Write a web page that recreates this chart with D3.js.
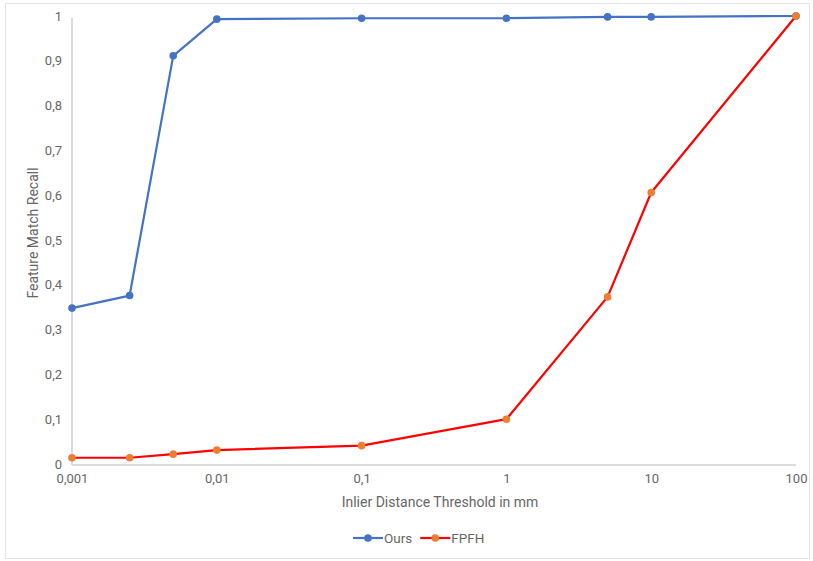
<!DOCTYPE html>
<html>
<head>
<meta charset="utf-8">
<script src="https://cdn.jsdelivr.net/npm/d3@7"></script>
<style>
  html, body { margin: 0; padding: 0; background: #fff; }
  svg { display: block; }
  text { font-family: Roboto, "Liberation Sans", Arial, sans-serif; }
</style>
</head>
<body>
<svg id="chart" width="813" height="561"></svg>
<script>
// Inlier distance thresholds (mm)
const thresholds = [0.001, 0.0025, 0.005, 0.01, 0.1, 1, 5, 10, 100];
// Feature match recall per method
const oursRecall = [0.348, 0.376, 0.911, 0.993, 0.995, 0.995, 0.998, 0.998, 1.0];
const fpfhRecall = [0.014, 0.014, 0.022, 0.031, 0.041, 0.1, 0.373, 0.606, 1.0];
// Axis ticks
const xTicks = [0.001, 0.01, 0.1, 1, 10, 100];
const xTickLabels = ["0,001", "0,01", "0,1", "1", "10", "100"];
const yTicks = [0, 0.1, 0.2, 0.3, 0.4, 0.5, 0.6, 0.7, 0.8, 0.9, 1];
const yTickLabels = ["0", "0,1", "0,2", "0,3", "0,4", "0,5", "0,6", "0,7", "0,8", "0,9", "1"];

const seriesList = [
  { name: "Ours", values: oursRecall, line: "#4472C4", dot: "#4472C4" },
  { name: "FPFH", values: fpfhRecall, line: "#FF0000", dot: "#ED7D31" }
];

const svg = d3.select("#chart");
const W = 813, H = 561;

// outer frame
svg.append("rect")
  .attr("x", 5.5).attr("y", 3.5)
  .attr("width", W - 9).attr("height", H - 6)
  .attr("fill", "#fff").attr("stroke", "#e3e3e3").attr("stroke-width", 1);

const plotLeft = 72, plotRight = 796, plotTop = 16, plotBottom = 464;

const x = d3.scaleLog().domain([0.001, 100]).range([plotLeft, plotRight]);
const y = d3.scaleLinear().domain([0, 1]).range([plotBottom, plotTop]);

const axisColor = "#cfcfcf";
const labelColor = "#666";

// y axis
const yAxis = svg.append("g")
  .attr("transform", `translate(${plotLeft},0)`)
  .call(d3.axisLeft(y).tickValues(yTicks)
    .tickFormat((d, i) => yTickLabels[i]).tickSize(0).tickPadding(10));
yAxis.select(".domain").attr("stroke", axisColor).attr("stroke-width", 1.5)
  .attr("d", `M0,${y(1) + 2}V${plotBottom + 1}`);
yAxis.selectAll("text").attr("fill", labelColor).attr("font-size", 13);

// x axis
const xAxis = svg.append("g")
  .attr("transform", `translate(0,${plotBottom + 1})`)
  .call(d3.axisBottom(x).tickValues(xTicks)
    .tickFormat((d, i) => xTickLabels[i]).tickSize(0).tickPadding(9));
xAxis.select(".domain").attr("stroke", axisColor).attr("stroke-width", 1.5)
  .attr("d", `M${plotLeft},0H${plotRight}`);
xAxis.selectAll("text").attr("fill", labelColor).attr("font-size", 13);

// axis titles
svg.append("text")
  .attr("x", 440).attr("y", 507)
  .attr("text-anchor", "middle").attr("fill", labelColor).attr("font-size", 14)
  .text("Inlier Distance Threshold in mm");

svg.append("text")
  .attr("transform", "translate(38,233) rotate(-90)")
  .attr("text-anchor", "middle").attr("fill", labelColor).attr("font-size", 14)
  .text("Feature Match Recall");

// series lines and markers
const line = d3.line().x((d, i) => x(thresholds[i])).y(d => y(d));

seriesList.forEach(s => {
  svg.append("path")
    .datum(s.values)
    .attr("fill", "none")
    .attr("stroke", s.line)
    .attr("stroke-width", 2.2)
    .attr("stroke-linejoin", "round")
    .attr("d", line);
  svg.append("g").selectAll("circle")
    .data(s.values)
    .join("circle")
    .attr("cx", (d, i) => x(thresholds[i]))
    .attr("cy", d => y(d))
    .attr("r", 3.8)
    .attr("fill", s.dot);
});

// legend
const legend = svg.append("g").attr("transform", "translate(353,538)");
let lx = 0;
seriesList.forEach(s => {
  const g = legend.append("g").attr("transform", `translate(${lx},0)`);
  g.append("line").attr("x1", 0).attr("x2", 30).attr("y1", 0).attr("y2", 0)
    .attr("stroke", s.line).attr("stroke-width", 2.2);
  g.append("circle").attr("cx", 15).attr("cy", 0).attr("r", 3.8).attr("fill", s.dot);
  const t = g.append("text").attr("x", 31).attr("y", 5)
    .attr("fill", labelColor).attr("font-size", 13.5).text(s.name);
  lx += 31 + t.node().getComputedTextLength() + 8;
});
</script>
</body>
</html>
